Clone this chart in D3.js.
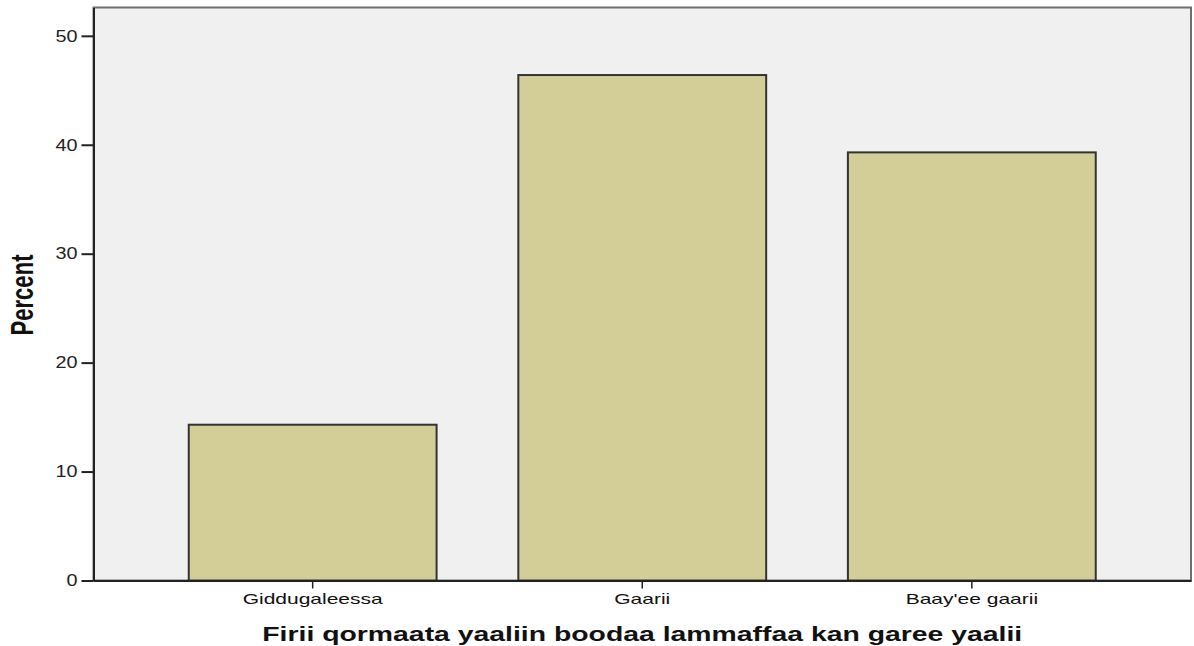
<!DOCTYPE html>
<html><head><meta charset="utf-8">
<script src="https://cdn.jsdelivr.net/npm/d3@7"></script>
<style>body{margin:0;background:#fff}svg{display:block}</style>
</head><body>
<script>
const categories = ["Giddugaleessa", "Gaarii", "Baay'ee gaarii"];
const percents = [14.3, 46.4, 39.3];
const yTicks = [0, 10, 20, 30, 40, 50];
const xTitle = "Firii qormaata yaaliin boodaa lammaffaa kan garee yaalii";
const yTitle = "Percent";

const W = 1194, H = 646;
const m = {left: 93.5, right: 3, top: 7.5, bottom: 65.5};
const FONT = "Arial, 'Liberation Sans', sans-serif";
const svg = d3.select("body").append("svg").attr("width", W).attr("height", H);

function stretch(sel, f) {
  sel.each(function() {
    const w = this.getComputedTextLength();
    d3.select(this).attr("textLength", w * f).attr("lengthAdjust", "spacingAndGlyphs");
  });
}

const x = d3.scaleBand().domain(categories).range([m.left, W - m.right])
  .paddingInner(0.248).paddingOuter(0.289);
const y = d3.scaleLinear().domain([0, 52.6]).range([H - m.bottom, m.top]);

svg.append("rect").attr("x", m.left).attr("y", m.top)
  .attr("width", W - m.right - m.left).attr("height", H - m.bottom - m.top)
  .attr("fill", "#f0f0f0").attr("stroke", "#6e6e6e").attr("stroke-width", 2);

svg.selectAll("rect.bar").data(percents).join("rect").attr("class", "bar")
  .attr("x", (d, i) => x(categories[i]))
  .attr("y", d => y(d))
  .attr("width", x.bandwidth())
  .attr("height", d => y(0) - y(d))
  .attr("fill", "#d3ce97").attr("stroke", "#333").attr("stroke-width", 2);

const yAxis = svg.append("g").attr("transform", `translate(${m.left},0)`)
  .call(d3.axisLeft(y).tickValues(yTicks).tickSize(12).tickSizeOuter(0).tickPadding(4).tickFormat(d3.format("d")));
yAxis.select(".domain").attr("stroke", "#222").attr("stroke-width", 2);
yAxis.selectAll(".tick line").attr("stroke", "#222").attr("stroke-width", 2);
yAxis.selectAll("text").attr("font-family", FONT)
  .attr("font-size", 16.5).attr("fill", "#222").call(stretch, 1.2);

const xAxis = svg.append("g").attr("transform", `translate(0,${H - m.bottom})`)
  .call(d3.axisBottom(x).tickSize(8).tickSizeOuter(0).tickPadding(5));
xAxis.select(".domain").attr("stroke", "#222").attr("stroke-width", 2);
xAxis.selectAll(".tick line").attr("stroke", "#222").attr("stroke-width", 1.5);
xAxis.selectAll("text").attr("font-family", FONT)
  .attr("font-size", 15).attr("fill", "#111").call(stretch, 1.4);

svg.append("text").attr("x", (m.left + W - m.right) / 2).attr("y", 641)
  .attr("text-anchor", "middle").attr("font-family", FONT)
  .attr("font-weight", "bold").attr("font-size", 21).attr("fill", "#111")
  .attr("textLength", 760).attr("lengthAdjust", "spacingAndGlyphs")
  .text(xTitle);

svg.append("text").attr("transform", "translate(33,295) rotate(-90)")
  .attr("text-anchor", "middle").attr("font-family", FONT)
  .attr("font-weight", "bold").attr("font-size", 31).attr("fill", "#111")
  .attr("textLength", 81).attr("lengthAdjust", "spacingAndGlyphs")
  .text(yTitle);
</script>
</body></html>
